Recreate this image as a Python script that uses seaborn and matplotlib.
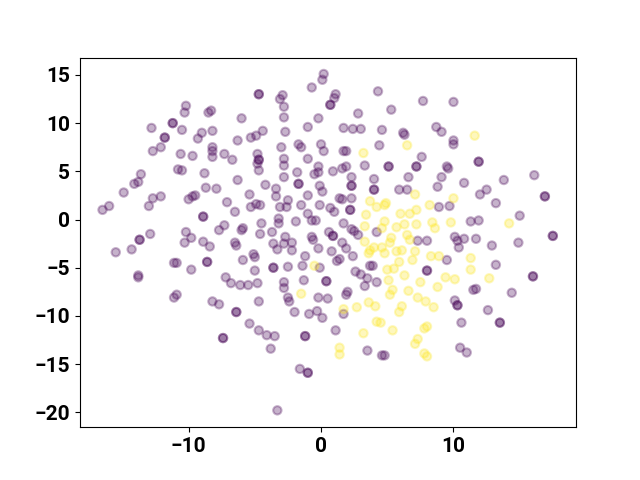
import seaborn as sns
import pandas as pd
from matplotlib import pyplot as plt

#---------------------------Data----------------
#class 0 points (purple); repeated entries are points that sit on top of each other
purple_x = [-10.2, -10.3, -11.2, -11.2, -12.8, -10.5, -9.0, -11.8, -11.8, -9.3,
            -12.1, -12.7, -10.6, -9.7, -10.8, -10.5, -13.6,
            0.2, 0.1, -0.7, -4.7, -4.7, -2.9, -3.1, -2.8, -8.3, -8.5, 0.7, 0.7,
            -6.0, -2.8, -0.2, -1.0, -8.2, -4.4, -4.9, -5.3, -2.7, -6.3, -3.0,
            -1.7, -1.5, 0.0, 0.2, -8.2, -8.2, -8.2, -7.3, -6.7, -4.8, -4.7, -4.7,
            -4.8, -4.7, -2.8, -2.8, -1.0, -0.2, -0.2, -0.5, -1.8, -2.8, -6.3, -8.8,
            1.1, 1.0, 4.3, 7.7, 10.0, 2.8, 5.3, 1.7, 2.4, 3.0, 4.6, 6.2, 6.3,
            8.7, 9.1, 10.0, 10.0, 1.7, 1.9, 4.4, 7.6, 0.9, 1.6, 1.9, 3.3,
            5.1, 5.1, 7.2, 7.2, 9.5, 9.6, 2.3, 4.0, 6.6, 9.1,
            11.9, 11.9, 13.8, 16.1, 10.8,
            -14.1, -13.8, -14.9, -12.7, -12.1, -13.0, -16.0, -16.5, -10.0, -9.7,
            -9.5, -8.7, -8.9, -8.9, -13.7, -13.7, -12.9, -14.3, -15.5, -10.2,
            -9.8, -10.3, -8.9, -11.1, -10.9, -9.8, -8.6, -8.6, -13.8, -13.8,
            -10.9, -11.1,
            -7.9, -4.2, -3.4, -3.4, -1.7, -1.7, -0.1, 0.1, -5.4, -7.1, -5.3,
            -4.9, -4.6, -6.5, -3.1, -2.6, -2.5, -1.5, -1.0, -0.1, -7.3, -7.7,
            -6.0, -5.9, -4.5, -3.2, -3.2, -1.9, -1.0, -0.7, -0.4, -4.6, -3.7,
            -0.7, -0.6, 0.6, -8.4, -6.5, -6.4, -3.6, -3.3, -2.7, -2.8, -2.2,
            -2.2, -0.2, -5.1, -5.0, -5.9, -1.2, -3.6, -3.6, -2.5, -1.4, -0.1,
            -5.0, -7.2, -6.8, -6.1, -5.5, -4.8, -2.8, -2.8, -1.3, 0.4, 0.4,
            -8.2, -7.7, -4.7, -2.5, -2.4, -0.2, 0.5,
            2.3, 2.3, 4.0, 4.0, 5.9, 6.5, 8.8, 1.4, 1.6, 2.3, 0.7, 1.0, 2.2, 2.2,
            8.9, 9.7, 1.7, 2.3, 2.5, 2.8, 4.2, 0.9, 0.9, 1.6, 1.9, 2.4, 0.8,
            1.4, 1.2, 7.3, 8.0, 9.5, 3.7, 3.9, 2.6, 3.0, 8.0, 8.0, 3.5, 4.2,
            3.3, 2.0, 1.9, 10.1,
            12.0, 12.5, 13.2, 16.9, 16.9, 15.0, 11.3, 11.9, 17.5, 17.5, 10.1,
            10.3, 10.8, 10.4, 11.7, 12.9, 14.9, 13.2, 16.0, 16.0, 11.5, 11.7,
            14.4, 10.3, 10.3,
            -6.4, -6.4, -2.0, -0.9, -0.3, 0.1, -5.4, -4.7, -4.1, -3.5, -1.2,
            -1.2, -7.4, -7.4, -3.8, -1.6, -1.0, -1.0, -3.3,
            1.7, 1.1, 3.5, 4.6, 4.8, 12.6, 10.6, 13.5, 13.5, 10.5, 11.0]
purple_y = [11.8, 11.1, 10.0, 10.0, 9.5, 9.3, 9.0, 8.5, 8.5, 8.4,
            7.5, 7.1, 6.8, 6.6, 5.2, 5.1, 4.7,
            15.1, 14.5, 13.7, 13.0, 13.0, 12.9, 12.5, 11.7, 11.3, 11.1, 11.9, 11.9,
            10.5, 10.6, 10.5, 9.6, 9.2, 9.2, 8.7, 8.5, 9.1, 8.2, 7.5,
            7.8, 7.5, 7.8, 7.1, 7.5, 7.1, 6.5, 6.8, 6.2, 6.8, 6.2, 6.2,
            5.8, 5.1, 6.3, 5.6, 6.3, 5.5, 4.9, 4.7, 4.9, 4.4, 4.1, 4.8,
            13.0, 12.6, 13.3, 12.3, 12.2, 11.0, 11.4, 9.5, 9.4, 9.4, 9.3, 9.0, 8.8,
            9.6, 9.1, 8.2, 7.8, 7.1, 7.1, 7.7, 6.5, 5.0, 5.3, 5.5, 5.6,
            5.5, 5.5, 5.5, 5.5, 5.5, 5.3, 4.4, 4.2, 4.4, 4.4,
            6.0, 6.0, 4.1, 4.6, 3.8,
            3.7, 3.9, 2.8, 2.2, 2.4, 1.4, 1.4, 1.0, 2.1, 2.4,
            2.5, 3.3, 0.3, 0.3, -2.1, -2.1, -1.5, -3.1, -3.4, -1.3,
            -1.9, -2.4, -2.3, -4.5, -4.5, -5.2, -4.4, -4.4, -5.8, -6.0,
            -7.8, -8.1,
            3.2, 3.6, 3.2, 2.4, 3.7, 3.7, 3.5, 2.9, 2.6, 1.8, 1.3,
            1.6, 1.5, 0.8, 1.3, 1.3, 2.0, 1.5, 2.5, 1.5, -0.6, -1.1,
            -1.1, -0.9, -0.4, 0.1, -0.4, -0.2, 0.6, -0.1, -0.1, -1.5, -1.3,
            -1.8, -2.1, -1.3, -2.8, -2.4, -2.7, -2.5, -3.1, -1.8, -2.5, -2.4,
            -3.2, -3.0, -3.6, -3.9, -4.2, -3.8, -5.0, -5.0, -4.9, -4.8, -5.0,
            -5.3, -6.0, -6.6, -6.8, -6.8, -6.6, -6.5, -7.1, -6.3, -6.4, -6.4,
            -8.5, -8.8, -8.5, -8.1, -8.5, -8.1, -8.2,
            3.5, 3.5, 3.1, 3.1, 3.1, 3.1, 3.4, 2.2, 2.1, 2.2, 1.2, 0.8, 1.0, 1.0,
            1.3, 1.4, -0.4, -1.0, -1.2, -1.6, -1.3, -1.7, -1.7, -2.4, -3.0, -3.8, -3.3,
            -4.1, -4.3, -2.2, -2.2, -4.2, -4.8, -4.8, -5.4, -5.7, -5.3, -5.3, -6.1, -6.5,
            -6.9, -7.5, -7.8, -8.4,
            2.6, 3.1, 1.7, 2.4, 2.4, 0.4, -0.2, -0.1, -1.7, -1.7, -1.8,
            -2.2, -2.0, -2.9, -2.0, -2.7, -2.4, -4.7, -5.9, -5.9, -7.3, -7.2,
            -7.6, -8.9, -8.9,
            -9.6, -9.6, -9.6, -9.8, -9.5, -10.2, -10.8, -11.5, -12.0, -12.1, -12.1,
            -12.1, -12.3, -12.3, -13.4, -15.5, -15.9, -15.9, -19.8,
            -9.8, -11.5, -13.6, -14.1, -14.1, -9.4, -10.7, -10.7, -10.7, -13.3, -13.8]

#class 1 points (yellow)
yellow_x = [3.2, 6.5, 11.6, -0.5, -1.5, 7.1, 3.7, 4.2, 4.8, 4.9, 3.4, 6.0,
            6.7, 7.2, 8.2, 3.3, 4.8, 4.6, 5.7, 6.3, 7.2, 8.4, 8.6, 9.8,
            3.3, 4.0, 4.6, 5.3, 5.2, 4.8, 3.7, 3.6, 5.7, 6.1, 6.5, 6.7,
            7.1, 8.3, 8.9, 5.9, 6.9, 5.0, 5.5, 6.3, 5.1, 7.5, 9.4, 8.8,
            5.4, 5.2, 6.6, 7.3, 7.9, 3.6, 10.0, 14.2, 11.3, 11.3, 10.1, 12.7,
            1.7, 2.7, 4.1, 6.1, 5.9, 8.5, 3.2, 4.2, 4.5, 5.4, 7.8, 8.0,
            7.3, 7.1, 1.4, 1.4, 7.8, 8.0]
yellow_y = [6.9, 7.7, 8.7, -4.8, -7.7, 2.6, 1.9, 1.3, 1.5, 1.7, 0.5, 0.6,
            0.6, 1.0, 1.5, -0.7, -0.2, -0.9, -0.8, -0.5, -0.5, -0.3, -0.9, -0.3,
            -2.3, -2.9, -2.9, -1.9, -2.4, -3.5, -3.2, -3.5, -3.3, -3.2, -1.6, -2.1,
            -3.3, -3.8, -3.8, -4.4, -4.2, -5.2, -5.1, -5.8, -6.3, -6.5, -6.0, -7.0,
            -7.3, -7.8, -7.4, -8.1, -8.5, -8.6, 2.2, -0.4, -4.0, -5.2, -6.2, -6.1,
            -9.3, -9.1, -9.0, -9.0, -9.6, -9.1, -11.8, -10.6, -10.7, -11.5, -11.3, -11.1,
            -12.4, -12.9, -13.3, -14.0, -13.9, -14.2]

#-------------------------Build DataFrame------------------------------------
df = pd.DataFrame({
    'x': purple_x + yellow_x,
    'y': purple_y + yellow_y,
    'label': [0] * len(purple_x) + [1] * len(yellow_x),
})

viridis = sns.color_palette('viridis', as_cmap=True)
palette = {0: viridis(0.0), 1: viridis(1.0)}

#--------------------------Plot------------------------------------------------
plt.rcParams['font.family'] = ['Roboto', 'DejaVu Sans']
plt.rcParams['font.weight'] = 'bold'

fig, ax = plt.subplots(figsize=(6.4, 4.8), dpi=100)
sns.scatterplot(data=df, x='x', y='y', hue='label', palette=palette,
                alpha=0.3, s=36, linewidth=1.5, edgecolor='face',
                legend=False, ax=ax)

ax.set_xlim(-18.2, 19.25)
ax.set_ylim(-21.55, 16.8)
ax.set_xticks([-10, 0, 10])
ax.set_yticks([-20, -15, -10, -5, 0, 5, 10, 15])
ax.tick_params(labelsize=15)
for lbl in ax.get_xticklabels() + ax.get_yticklabels():
    lbl.set_fontweight('bold')
ax.set_xlabel('')
ax.set_ylabel('')

fig.savefig('out.png')
